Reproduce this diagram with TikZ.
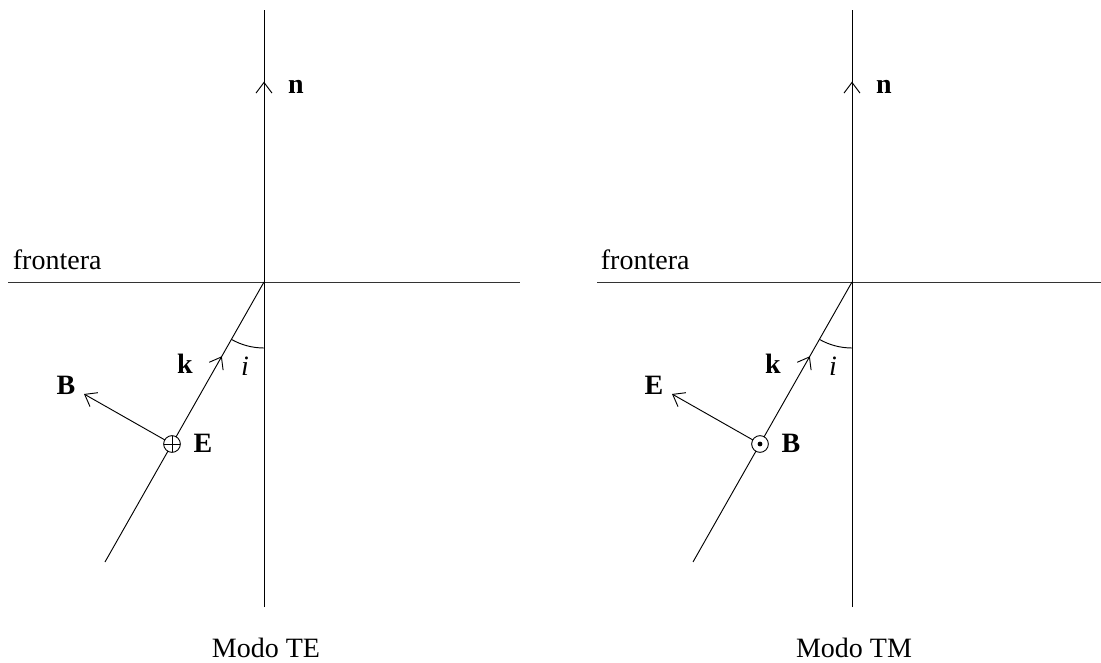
\documentclass[tikz,border=0pt]{standalone}
\usepackage{fontspec}
\setmainfont{Liberation Serif}
\usetikzlibrary{arrows.meta,decorations.markings,angles}

\begin{document}
\begin{tikzpicture}[x=0.75pt,y=-0.75pt,line width=0.7pt,>={Straight Barb[length=8pt,width=12pt]},
  every node/.style={font=\fontsize{21}{25}\selectfont},
  midarrow/.style={postaction={decorate},decoration={markings,mark=at position #1 with {\arrow{>}}}},
  pol/.style={draw,circle,minimum size=12.5pt,inner sep=0pt,outer sep=0pt,fill=white}]
\useasboundingbox (0,0) rectangle (1101,663);
% Modo TE
\coordinate (OL) at (264,282);
\coordinate (topL) at (264,10);
\coordinate (botL) at (264,607);
\coordinate (srcL) at (105,562);
\coordinate (tipL) at (84,394);
\coordinate (fwL) at (8,282);
\coordinate (feL) at (520,282);
\draw[black!80] (fwL) -- (feL);
\draw[midarrow=0.88] (botL) -- (topL);
\node[pol] (oplus) at (172,444) {};
\draw (oplus.north) -- (oplus.south) (oplus.west) -- (oplus.east);
\draw (srcL) -- (oplus);
\draw[midarrow=0.52] (oplus) -- (OL);
\draw[->] (oplus) -- (tipL);
\pic[draw,angle radius=49.5pt] {angle=srcL--OL--botL};
\node[anchor=base west] (frontL) at (8,270) {frontera};
\node (nL) at (296,87) {\textbf{n}};
\node (kL) at (185,364) {\textbf{k}};
\node (iL) at (245,366) {\textit{i}};
\node (BL) at (66,385) {\textbf{B}};
\node (EL) at (203,443) {\textbf{E}};
\node[anchor=base] (modoTE) at (266,657) {Modo TE};
% Modo TM
\coordinate (OR) at (852,282);
\coordinate (topR) at (852,10);
\coordinate (botR) at (852,607);
\coordinate (srcR) at (693,562);
\coordinate (tipR) at (672,394);
\coordinate (fwR) at (597,282);
\coordinate (feR) at (1101,282);
\draw[black!80] (fwR) -- (feR);
\draw[midarrow=0.88] (botR) -- (topR);
\node[pol] (odot) at (760,444) {};
\fill (odot.center) circle[radius=1.8pt];
\draw (srcR) -- (odot);
\draw[midarrow=0.52] (odot) -- (OR);
\draw[->] (odot) -- (tipR);
\pic[draw,angle radius=49.5pt] {angle=srcR--OR--botR};
\node[anchor=base west] (frontR) at (596,270) {frontera};
\node (nR) at (884,87) {\textbf{n}};
\node (kR) at (773,364) {\textbf{k}};
\node (iR) at (833,366) {\textit{i}};
\node (ER) at (654,385) {\textbf{E}};
\node (BR) at (791,443) {\textbf{B}};
\node[anchor=base] (modoTM) at (854,657) {Modo TM};
\end{tikzpicture}
\end{document}
